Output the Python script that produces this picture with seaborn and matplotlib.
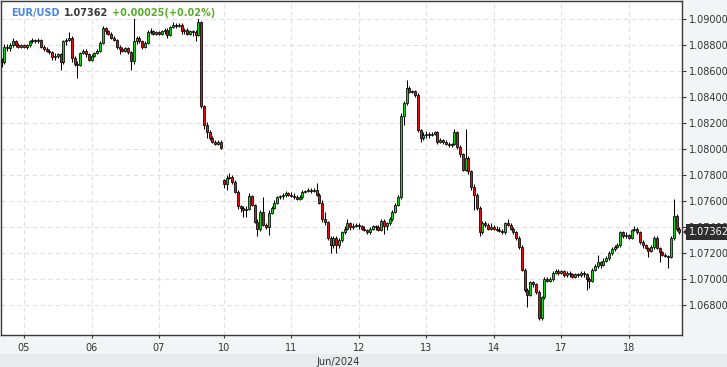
import numpy as np
import matplotlib
matplotlib.use("Agg")
import matplotlib.pyplot as plt
import matplotlib.transforms as mtransforms
from matplotlib.patches import Rectangle
from matplotlib.ticker import FuncFormatter, FixedLocator
import seaborn as sns

# ---------------- data (hourly EUR/USD candles) ----------------
symbol = "EUR/USD"
last_price_text = "1.07362"
change_text = "+0.00025(+0.02%)"
month_label = "Jun/2024"
day_labels = ["04", "05", "06", "07", "10", "11", "12", "13", "14", "17", "18"]
day_sizes = [8, 24, 24, 23, 24, 24, 24, 24, 24, 24, 19]
last_price = 1.07362
price_ticks = [1.068, 1.070, 1.072, 1.074, 1.076, 1.078, 1.080, 1.082, 1.084, 1.086, 1.088, 1.090]

opens = [
    1.0869, 1.0867, 1.0879, 1.0878, 1.0880, 1.0883, 1.0880, 1.0879,
    1.0880, 1.0879, 1.0880, 1.0883, 1.0884, 1.0883, 1.0884, 1.0879, 1.0877, 1.0876, 1.0875, 1.0871,
    1.0872, 1.0873, 1.0867, 1.0883, 1.0884, 1.0886, 1.0870, 1.0866, 1.0865, 1.0874, 1.0876, 1.0873,
    1.0869, 1.0872, 1.0874, 1.0876, 1.0882, 1.0893, 1.0891, 1.0889, 1.0886, 1.0884, 1.0879, 1.0877,
    1.0876, 1.0878, 1.0875, 1.0868, 1.0883, 1.0886, 1.0883, 1.0879, 1.0882, 1.0890, 1.0891, 1.0889,
    1.0890, 1.0889, 1.0891, 1.0892, 1.0888, 1.0894, 1.0896, 1.0895, 1.0896, 1.0891, 1.0892, 1.0889,
    1.0891, 1.0890, 1.0888, 1.0898, 1.0833, 1.0819, 1.0813, 1.0809, 1.0806, 1.0804, 1.0806,
    1.0776, 1.0773, 1.0778, 1.0779, 1.0775, 1.0767, 1.0756, 1.0755, 1.0753, 1.0754, 1.0764, 1.0757,
    1.0744, 1.0739, 1.0752, 1.0742, 1.0740, 1.0751, 1.0755, 1.0759, 1.0763, 1.0764, 1.0765, 1.0766,
    1.0765, 1.0764, 1.0763, 1.0762, 1.0763, 1.0767, 1.0768, 1.0769, 1.0768, 1.0769, 1.0765, 1.0759,
    1.0746, 1.0744, 1.0732, 1.0726, 1.0732, 1.0726, 1.0730, 1.0736, 1.0739, 1.0743, 1.0740, 1.0741,
    1.0742, 1.0741, 1.0739, 1.0738, 1.0736, 1.0739, 1.0741, 1.0740, 1.0738, 1.0745, 1.0741, 1.0743,
    1.0746, 1.0752, 1.0757, 1.0763, 1.0826, 1.0836, 1.0847, 1.0844, 1.0845, 1.0842, 1.0815, 1.0809,
    1.0811, 1.0812, 1.0811, 1.0812, 1.0813, 1.0806, 1.0807, 1.0806, 1.0804, 1.0803, 1.0804, 1.0813,
    1.0802, 1.0796, 1.0784, 1.0793, 1.0783, 1.0771, 1.0765, 1.0755, 1.0736, 1.0743, 1.0742, 1.0739,
    1.0740, 1.0739, 1.0738, 1.0737, 1.0736, 1.0743, 1.0742, 1.0739, 1.0736, 1.0732, 1.0725, 1.0707,
    1.0692, 1.0688, 1.0698, 1.0696, 1.0690, 1.0670, 1.0686, 1.0700, 1.0699, 1.0700, 1.0705, 1.0706,
    1.0705, 1.0706, 1.0703, 1.0705, 1.0704, 1.0702, 1.0704, 1.0703, 1.0705, 1.0704, 1.0700, 1.0699,
    1.0707, 1.0710, 1.0713, 1.0711, 1.0714, 1.0716, 1.0720, 1.0723, 1.0725, 1.0726, 1.0736, 1.0733,
    1.0734, 1.0732, 1.0738, 1.0739, 1.0736, 1.0729, 1.0726, 1.0724, 1.0722, 1.0725, 1.0732, 1.0724,
    1.0721, 1.0719, 1.0718, 1.0717, 1.0732, 1.0749, 1.0739,
]
highs = [
    1.0870, 1.0881, 1.0881, 1.0882, 1.0886, 1.0884, 1.0882, 1.0881,
    1.0881, 1.0881, 1.0884, 1.0886, 1.0885, 1.0886, 1.0885, 1.0880, 1.0879, 1.0877, 1.0876, 1.0874,
    1.0874, 1.0874, 1.0884, 1.0886, 1.0890, 1.0887, 1.0872, 1.0868, 1.0875, 1.0877, 1.0877, 1.0874,
    1.0873, 1.0875, 1.0877, 1.0883, 1.0895, 1.0894, 1.0892, 1.0890, 1.0887, 1.0885, 1.0880, 1.0879,
    1.0879, 1.0879, 1.0876, 1.0901, 1.0887, 1.0887, 1.0884, 1.0883, 1.0892, 1.0893, 1.0892, 1.0891,
    1.0891, 1.0892, 1.0893, 1.0893, 1.0895, 1.0898, 1.0897, 1.0897, 1.0897, 1.0893, 1.0893, 1.0892,
    1.0892, 1.0892, 1.0901, 1.0899, 1.0834, 1.0821, 1.0815, 1.0810, 1.0807, 1.0807, 1.0807,
    1.0777, 1.0780, 1.0782, 1.0780, 1.0776, 1.0769, 1.0757, 1.0756, 1.0756, 1.0766, 1.0765, 1.0758,
    1.0746, 1.0753, 1.0763, 1.0743, 1.0753, 1.0756, 1.0761, 1.0764, 1.0765, 1.0766, 1.0768, 1.0767,
    1.0767, 1.0766, 1.0765, 1.0765, 1.0769, 1.0769, 1.0770, 1.0770, 1.0770, 1.0774, 1.0766, 1.0761,
    1.0752, 1.0745, 1.0733, 1.0733, 1.0733, 1.0732, 1.0737, 1.0741, 1.0746, 1.0744, 1.0743, 1.0743,
    1.0743, 1.0742, 1.0741, 1.0739, 1.0740, 1.0742, 1.0742, 1.0742, 1.0746, 1.0746, 1.0744, 1.0748,
    1.0753, 1.0759, 1.0765, 1.0828, 1.0837, 1.0853, 1.0849, 1.0846, 1.0846, 1.0843, 1.0816, 1.0813,
    1.0814, 1.0813, 1.0813, 1.0814, 1.0814, 1.0809, 1.0808, 1.0807, 1.0806, 1.0805, 1.0816, 1.0814,
    1.0803, 1.0797, 1.0816, 1.0795, 1.0784, 1.0773, 1.0766, 1.0756, 1.0745, 1.0745, 1.0743, 1.0743,
    1.0742, 1.0741, 1.0740, 1.0739, 1.0744, 1.0746, 1.0743, 1.0740, 1.0737, 1.0733, 1.0726, 1.0709,
    1.0693, 1.0699, 1.0699, 1.0697, 1.0692, 1.0687, 1.0702, 1.0702, 1.0702, 1.0706, 1.0708, 1.0708,
    1.0707, 1.0707, 1.0706, 1.0706, 1.0705, 1.0705, 1.0705, 1.0706, 1.0706, 1.0705, 1.0702, 1.0709,
    1.0712, 1.0719, 1.0714, 1.0716, 1.0718, 1.0722, 1.0725, 1.0726, 1.0728, 1.0737, 1.0737, 1.0736,
    1.0735, 1.0739, 1.0741, 1.0740, 1.0737, 1.0730, 1.0727, 1.0725, 1.0726, 1.0733, 1.0733, 1.0725,
    1.0722, 1.0720, 1.0719, 1.0733, 1.0762, 1.0750, 1.0740,
]
lows = [
    1.0863, 1.0866, 1.0876, 1.0876, 1.0879, 1.0879, 1.0878, 1.0878,
    1.0878, 1.0877, 1.0879, 1.0882, 1.0882, 1.0882, 1.0878, 1.0876, 1.0875, 1.0873, 1.0869, 1.0869,
    1.0870, 1.0861, 1.0866, 1.0880, 1.0883, 1.0867, 1.0864, 1.0855, 1.0864, 1.0873, 1.0871, 1.0868,
    1.0868, 1.0871, 1.0873, 1.0875, 1.0881, 1.0889, 1.0888, 1.0885, 1.0883, 1.0877, 1.0873, 1.0875,
    1.0875, 1.0873, 1.0861, 1.0866, 1.0881, 1.0882, 1.0877, 1.0878, 1.0881, 1.0889, 1.0888, 1.0888,
    1.0888, 1.0888, 1.0889, 1.0886, 1.0887, 1.0893, 1.0893, 1.0894, 1.0889, 1.0889, 1.0888, 1.0888,
    1.0887, 1.0883, 1.0887, 1.0832, 1.0816, 1.0809, 1.0807, 1.0805, 1.0803, 1.0803, 1.0800,
    1.0770, 1.0769, 1.0777, 1.0773, 1.0766, 1.0754, 1.0752, 1.0748, 1.0748, 1.0753, 1.0756, 1.0743,
    1.0733, 1.0737, 1.0741, 1.0739, 1.0734, 1.0750, 1.0754, 1.0758, 1.0762, 1.0762, 1.0763, 1.0764,
    1.0763, 1.0762, 1.0761, 1.0761, 1.0762, 1.0766, 1.0767, 1.0766, 1.0767, 1.0764, 1.0758, 1.0744,
    1.0742, 1.0730, 1.0720, 1.0724, 1.0720, 1.0724, 1.0729, 1.0735, 1.0738, 1.0738, 1.0739, 1.0740,
    1.0739, 1.0738, 1.0737, 1.0735, 1.0735, 1.0738, 1.0738, 1.0737, 1.0737, 1.0735, 1.0738, 1.0742,
    1.0745, 1.0751, 1.0756, 1.0762, 1.0819, 1.0834, 1.0843, 1.0843, 1.0840, 1.0813, 1.0806, 1.0807,
    1.0809, 1.0809, 1.0810, 1.0811, 1.0804, 1.0805, 1.0804, 1.0803, 1.0802, 1.0802, 1.0803, 1.0800,
    1.0794, 1.0783, 1.0783, 1.0781, 1.0769, 1.0753, 1.0753, 1.0733, 1.0735, 1.0740, 1.0738, 1.0738,
    1.0738, 1.0737, 1.0736, 1.0735, 1.0735, 1.0741, 1.0738, 1.0735, 1.0730, 1.0723, 1.0706, 1.0690,
    1.0679, 1.0687, 1.0694, 1.0689, 1.0669, 1.0669, 1.0685, 1.0698, 1.0698, 1.0699, 1.0704, 1.0703,
    1.0704, 1.0702, 1.0702, 1.0702, 1.0701, 1.0701, 1.0702, 1.0702, 1.0702, 1.0692, 1.0693, 1.0698,
    1.0706, 1.0709, 1.0709, 1.0710, 1.0713, 1.0715, 1.0719, 1.0722, 1.0724, 1.0725, 1.0732, 1.0732,
    1.0731, 1.0731, 1.0737, 1.0735, 1.0727, 1.0724, 1.0723, 1.0717, 1.0721, 1.0723, 1.0723, 1.0713,
    1.0718, 1.0717, 1.0709, 1.0716, 1.0730, 1.0737, 1.0735,
]
closes = [
    1.0867, 1.0879, 1.0878, 1.0880, 1.0883, 1.0880, 1.0879, 1.0880,
    1.0879, 1.0880, 1.0883, 1.0884, 1.0883, 1.0884, 1.0879, 1.0877, 1.0876, 1.0875, 1.0871, 1.0872,
    1.0873, 1.0867, 1.0883, 1.0884, 1.0886, 1.0870, 1.0866, 1.0865, 1.0874, 1.0876, 1.0873, 1.0869,
    1.0872, 1.0874, 1.0876, 1.0882, 1.0893, 1.0891, 1.0889, 1.0886, 1.0884, 1.0879, 1.0877, 1.0876,
    1.0878, 1.0875, 1.0868, 1.0883, 1.0886, 1.0883, 1.0879, 1.0882, 1.0890, 1.0891, 1.0889, 1.0890,
    1.0889, 1.0891, 1.0892, 1.0888, 1.0894, 1.0896, 1.0895, 1.0896, 1.0891, 1.0892, 1.0889, 1.0891,
    1.0890, 1.0888, 1.0898, 1.0833, 1.0819, 1.0813, 1.0809, 1.0806, 1.0804, 1.0806, 1.0801,
    1.0773, 1.0778, 1.0779, 1.0775, 1.0767, 1.0756, 1.0755, 1.0753, 1.0754, 1.0764, 1.0757, 1.0744,
    1.0739, 1.0752, 1.0742, 1.0740, 1.0751, 1.0755, 1.0759, 1.0763, 1.0764, 1.0765, 1.0766, 1.0765,
    1.0764, 1.0763, 1.0762, 1.0763, 1.0767, 1.0768, 1.0769, 1.0768, 1.0769, 1.0765, 1.0759, 1.0746,
    1.0744, 1.0732, 1.0726, 1.0732, 1.0726, 1.0730, 1.0736, 1.0739, 1.0743, 1.0740, 1.0741, 1.0742,
    1.0741, 1.0739, 1.0738, 1.0736, 1.0739, 1.0741, 1.0740, 1.0738, 1.0745, 1.0741, 1.0743, 1.0746,
    1.0752, 1.0757, 1.0763, 1.0826, 1.0836, 1.0847, 1.0844, 1.0845, 1.0842, 1.0815, 1.0809, 1.0811,
    1.0812, 1.0811, 1.0812, 1.0813, 1.0806, 1.0807, 1.0806, 1.0804, 1.0803, 1.0804, 1.0813, 1.0802,
    1.0796, 1.0784, 1.0793, 1.0783, 1.0771, 1.0765, 1.0755, 1.0736, 1.0743, 1.0742, 1.0739, 1.0740,
    1.0739, 1.0738, 1.0737, 1.0736, 1.0743, 1.0742, 1.0739, 1.0736, 1.0732, 1.0725, 1.0707, 1.0692,
    1.0688, 1.0698, 1.0696, 1.0690, 1.0670, 1.0686, 1.0700, 1.0699, 1.0700, 1.0705, 1.0706, 1.0705,
    1.0706, 1.0703, 1.0705, 1.0704, 1.0702, 1.0704, 1.0703, 1.0705, 1.0704, 1.0700, 1.0699, 1.0707,
    1.0710, 1.0713, 1.0711, 1.0714, 1.0716, 1.0720, 1.0723, 1.0725, 1.0726, 1.0736, 1.0733, 1.0734,
    1.0732, 1.0738, 1.0739, 1.0736, 1.0729, 1.0726, 1.0724, 1.0722, 1.0725, 1.0732, 1.0724, 1.0721,
    1.0719, 1.0718, 1.0717, 1.0732, 1.0749, 1.0739, 1.07362,
]

# ---------------- style ----------------
sns.set_theme(style="white")
plt.rcParams["font.family"] = ["DejaVu Sans"]

W, H = 727, 367
fig = plt.figure(figsize=(W / 100, H / 100), dpi=100, facecolor="#f3f4f6")
ax_left_px, ax_right_px, ax_top_px, ax_bot_px = 0.5, 682.3, 1.0, 335.0
ax = fig.add_axes([ax_left_px / W, 1 - ax_bot_px / H,
                   (ax_right_px - ax_left_px) / W, (ax_bot_px - ax_top_px) / H])
ax.set_facecolor("white")

# bottom band
fig.patches.append(Rectangle((0, 0), 1, 13 / H, transform=fig.transFigure,
                             facecolor="#e9eaec", edgecolor="none", zorder=0))

o = np.array(opens)
h = np.array(highs)
l = np.array(lows)
c = np.array(closes)
n = len(c)
xs = np.arange(n)
up = c >= o
body_col = np.where(up, "#12d612", "#e01010")

ax.vlines(xs, l, h, color="black", linewidth=0.75, zorder=2)
ax.bar(xs, np.maximum(np.abs(c - o), 0.00003), bottom=np.minimum(o, c), width=0.72,
       color=body_col, edgecolor="black", linewidth=0.55, zorder=3)

# axes ranges
ax.set_xlim(-0.36, 242.05)
ax.set_ylim(1.065715, 1.091408)

starts = np.cumsum([0] + day_sizes[:-1])
ax.xaxis.set_major_locator(FixedLocator(starts[1:]))
ax.set_xticklabels(day_labels[1:])
ax.yaxis.set_major_locator(FixedLocator(price_ticks))
ax.yaxis.set_major_formatter(FuncFormatter(lambda v, p: f"{v:.5f}"))
ax.yaxis.tick_right()

ax.grid(True, color="#e0e0e0", linestyle=(0, (4, 3)), linewidth=0.8)
ax.set_axisbelow(True)

for s in ax.spines.values():
    s.set_visible(True)
    s.set_color("#3a3a3a")
    s.set_linewidth(1.0)

ax.tick_params(axis="y", which="major", right=True, left=False, length=3, width=0.8,
               color="#3a3a3a", labelsize=7, labelcolor="#333333", pad=1.5)
ax.tick_params(axis="x", which="major", bottom=True, length=2, width=0.8,
               color="#3a3a3a", labelsize=7, labelcolor="#333333", pad=3.5)

fig.text(338 / W, 1 - 362 / H, month_label, ha="center", va="center",
         fontsize=7, color="#333333")

# title
t1 = ax.text(10.5 / 681.8, 1 - 15 / 334, symbol, transform=ax.transAxes, fontsize=7,
             fontweight="bold", color="#4a86e8", va="baseline", ha="left", zorder=6,
             bbox=dict(boxstyle="square,pad=0.15", fc="white", ec="none"))
t2 = ax.annotate(last_price_text, xy=(1, 0), xycoords=t1, xytext=(3, 0),
                 textcoords="offset points", fontsize=7, fontweight="bold",
                 color="#3a3a3a", va="bottom", ha="left", zorder=6,
                 bbox=dict(boxstyle="square,pad=0.15", fc="white", ec="none"))
t3 = ax.annotate(change_text, xy=(1, 0), xycoords=t2, xytext=(3, 0),
                 textcoords="offset points", fontsize=7, fontweight="bold",
                 color="#5aad2b", va="bottom", ha="left", zorder=6,
                 bbox=dict(boxstyle="square,pad=0.15", fc="white", ec="none"))

# price tag on the right
blend = mtransforms.blended_transform_factory(ax.transAxes, ax.transData)
axw = ax_right_px - ax_left_px
ax.plot([(687.5 - ax_left_px) / axw], [last_price], transform=blend,
        marker=[(-1, 0), (0, 1), (0, -1)], markersize=7, color="#2e2e2e",
        clip_on=False, zorder=7, linestyle="none")
ax.text((688.5 - ax_left_px) / axw, last_price, last_price_text, transform=blend,
        ha="left", va="center", fontsize=7, color="white", zorder=8, clip_on=False,
        bbox=dict(boxstyle="square,pad=0.3", fc="#2e2e2e", ec="none"))

fig.savefig("out.png", dpi=100, facecolor=fig.get_facecolor())
